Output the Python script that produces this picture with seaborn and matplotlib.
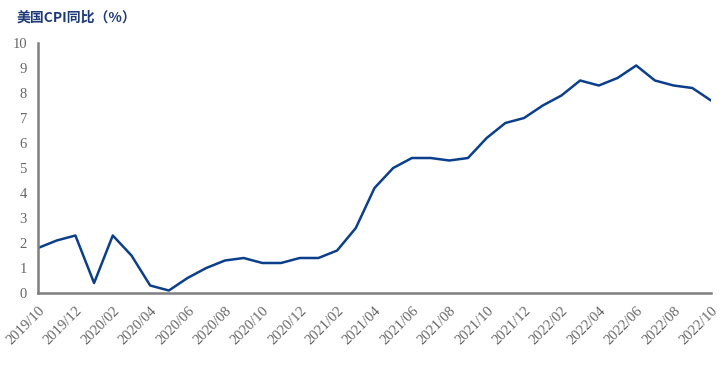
import matplotlib
matplotlib.use("Agg")
import matplotlib.pyplot as plt
import seaborn as sns
import pandas as pd

months = ["2019/10", "2019/11", "2019/12", "2020/01", "2020/02", "2020/03", "2020/04",
          "2020/05", "2020/06", "2020/07", "2020/08", "2020/09", "2020/10", "2020/11",
          "2020/12", "2021/01", "2021/02", "2021/03", "2021/04", "2021/05", "2021/06",
          "2021/07", "2021/08", "2021/09", "2021/10", "2021/11", "2021/12", "2022/01",
          "2022/02", "2022/03", "2022/04", "2022/05", "2022/06", "2022/07", "2022/08",
          "2022/09", "2022/10"]
cpi_yoy = [1.8, 2.1, 2.3, 0.4, 2.3, 1.5, 0.3, 0.1, 0.6, 1.0, 1.3, 1.4, 1.2, 1.2,
           1.4, 1.4, 1.7, 2.6, 4.2, 5.0, 5.4, 5.4, 5.3, 5.4, 6.2, 6.8, 7.0, 7.5,
           7.9, 8.5, 8.3, 8.6, 9.1, 8.5, 8.3, 8.2, 7.7]
title = "美国CPI同比（%）"

sns.set_style("white")
plt.rcParams['font.family'] = ['Liberation Serif', 'DejaVu Sans']

df = pd.DataFrame({"idx": range(len(months)), "month": months, "value": cpi_yoy})

fig = plt.figure(figsize=(7.21, 3.66), dpi=100)
ax = fig.add_axes([38/721, 1-293/366, (711-38)/721, (293-43)/366])
sns.lineplot(data=df, x="idx", y="value", ax=ax, color="#0B3F8C", linewidth=1.8)

ax.set_xlim(0, len(months)-1)
ax.set_ylim(0, 10)
ax.set_yticks(range(0, 11))
ax.set_xticks(range(0, len(months), 2))
ax.set_xticklabels(months[::2], rotation=45, ha="right", rotation_mode="anchor")
ax.set_xlabel("")
ax.set_ylabel("")

for s in ["top", "right"]:
    ax.spines[s].set_visible(False)
for s in ["left", "bottom"]:
    ax.spines[s].set_color("#7F7F7F")
    ax.spines[s].set_linewidth(1.8)

ax.tick_params(axis="both", which="major", direction="out", length=5, width=1.5,
               color="#7F7F7F", labelcolor="#666666", labelsize=10.5)
ax.tick_params(axis="x", pad=3)
ax.tick_params(axis="y", pad=3)
ax.grid(False)

fig.text(17/721, 1-18/366, title, fontsize=10, fontweight="bold", color="#1F3A78",
         family=["Noto Sans CJK SC", "DejaVu Sans"], va="center", ha="left")

fig.savefig("out.png", dpi=100, facecolor="white")
